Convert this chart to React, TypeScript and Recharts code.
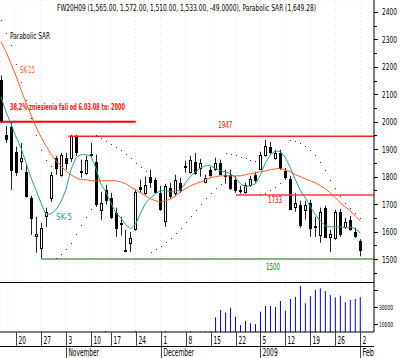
import React from "react";
import {
  Bar,
  CartesianGrid,
  ComposedChart,
  Line,
  ReferenceLine,
  Scatter,
  XAxis,
  YAxis,
} from "recharts";

const FONT = "'Liberation Sans Narrow', 'Arial Narrow', 'DejaVu Sans Condensed', sans-serif";

// one entry per trading day, 15 Oct 2008 .. 2 Feb 2009
const opens = [
  2153, 1953, 1982, 1891, 1858, 1818, 1723, 1585, 1541, 1657,
  1723, 1869, 1807, 1869, 1869, 1949, 1818, 1814, 1880, 1854,
  1679, 1752, 1723, 1668, 1628, 1532, 1559, 1610, 1763, 1741,
  1800, 1789, 1741, 1639, 1759, 1741, 1778, 1836, 1818, 1854,
  1832, 1781, 1825, 1829, 1851, 1803, 1807, 1789, 1749, 1745,
  1770, 1807, 1829, 1880, 1909, 1869, 1887, 1821, 1792, 1690,
  1698, 1680, 1705, 1621, 1588, 1687, 1581, 1577, 1672, 1617,
  1643, 1599, 1565,
];
const highs = [
  2168, 1985, 2000, 1909, 1923, 1847, 1730, 1654, 1632, 1687,
  1818, 1876, 1887, 1887, 1953, 1953, 1862, 1876, 1923, 1880,
  1745, 1770, 1741, 1687, 1654, 1606, 1599, 1752, 1789, 1800,
  1825, 1796, 1767, 1774, 1778, 1807, 1796, 1858, 1876, 1887,
  1865, 1807, 1836, 1869, 1862, 1825, 1825, 1803, 1767, 1778,
  1803, 1818, 1891, 1934, 1927, 1898, 1898, 1832, 1803, 1740,
  1712, 1712, 1716, 1654, 1687, 1694, 1606, 1679, 1683, 1650,
  1657, 1614, 1572,
];
const lows = [
  1996, 1923, 1752, 1803, 1825, 1723, 1588, 1523, 1504, 1617,
  1708, 1807, 1800, 1825, 1854, 1876, 1796, 1807, 1869, 1690,
  1643, 1698, 1646, 1581, 1585, 1526, 1526, 1603, 1741, 1734,
  1759, 1738, 1676, 1617, 1719, 1730, 1741, 1814, 1811, 1807,
  1800, 1778, 1800, 1821, 1807, 1774, 1752, 1741, 1738, 1738,
  1763, 1778, 1825, 1872, 1883, 1862, 1825, 1792, 1679, 1672,
  1614, 1643, 1581, 1581, 1559, 1577, 1526, 1570, 1581, 1610,
  1603, 1577, 1510,
];
const closes = [
  2007, 1938, 1825, 1818, 1869, 1730, 1650, 1592, 1614, 1672,
  1807, 1832, 1880, 1851, 1949, 1891, 1821, 1862, 1883, 1701,
  1705, 1716, 1654, 1614, 1632, 1528, 1577, 1745, 1756, 1770,
  1781, 1745, 1683, 1767, 1730, 1789, 1752, 1840, 1862, 1814,
  1851, 1796, 1807, 1851, 1810, 1807, 1759, 1752, 1752, 1770,
  1792, 1789, 1880, 1913, 1891, 1887, 1832, 1800, 1683, 1705,
  1625, 1697, 1614, 1617, 1672, 1581, 1592, 1672, 1592, 1636,
  1610, 1582, 1533,
];
const sk5 = [
  2091, 2036, 1993, 1945, 1905, 1851, 1796, 1752, 1705, 1661,
  1665, 1679, 1708, 1752, 1825, 1869, 1880, 1880, 1876, 1832,
  1774, 1745, 1705, 1668, 1650, 1625, 1610, 1628, 1668, 1705,
  1723, 1738, 1749, 1749, 1745, 1745, 1752, 1778, 1803, 1818,
  1832, 1840, 1840, 1829, 1821, 1818, 1811, 1796, 1774, 1763,
  1767, 1774, 1807, 1851, 1880, 1894, 1891, 1869, 1832, 1789,
  1749, 1723, 1690, 1661, 1639, 1621, 1617, 1617, 1617, 1614,
  1617, 1610, 1595,
];
const sk15 = [
  2292, 2255, 2211, 2168, 2117, 2069, 2026, 1982, 1945, 1913,
  1883, 1858, 1840, 1821, 1807, 1796, 1789, 1789, 1785, 1785,
  1785, 1785, 1785, 1785, 1781, 1774, 1763, 1752, 1741, 1730,
  1719, 1712, 1708, 1712, 1719, 1730, 1745, 1756, 1767, 1774,
  1781, 1789, 1796, 1800, 1803, 1803, 1803, 1803, 1803, 1807,
  1811, 1814, 1818, 1821, 1825, 1829, 1829, 1825, 1818, 1807,
  1800, 1792, 1785, 1778, 1767, 1756, 1741, 1723, 1705, 1690,
  1676, 1657, 1639,
];
const sar = [
  2372, 2324, 2281, 2211, 2146, 2080, 2015, 1953, 1898, 1862,
  1840, 1504, 1519, 1537, 1559, 1592, 1625, 1654, 1683, 1953,
  1942, 1931, 1920, 1909, 1898, 1883, 1869, 1851, 1836, 1821,
  1526, 1537, 1548, 1563, 1577, 1595, 1614, 1636, 1657, 1679,
  1701, 1723, 1741, 1760, 1774, 1887, 1883, 1880, 1872, 1869,
  1862, 1858, 1738, 1741, 1752, 1763, 1778, 1792, 1934, 1931,
  1923, 1913, 1898, 1880, 1854, 1825, 1789, 1760, 1730, 1705,
  1687, 1668, 1649.28,
];
const volume = [
  0, 0, 0, 0, 0, 0, 0, 0, 0, 0,
  0, 0, 0, 0, 0, 0, 0, 0, 0, 0,
  0, 1200, 0, 0, 0, 0, 0, 1200, 0, 0,
  0, 0, 0, 1200, 0, 0, 0, 0, 1200, 0,
  0, 600, 600, 17600, 26400, 23200, 29200, 18400, 8400, 13200,
  10400, 9600, 24400, 31200, 31200, 30000, 37200, 25200, 39600, 42400,
  55200, 34400, 43200, 50400, 52400, 49200, 44400, 41600, 43600, 35600,
  38400, 39600, 41600,
];

const tickIdx = [3, 8, 13, 18, 22, 27, 32, 37, 42, 47, 52, 57, 62, 67, 72];
const tickDays = ["20", "27", "3", "10", "17", "24", "1", "8", "15", "22", "5", "12", "19", "26", "2"];
const monthIdx = [13, 32, 52, 72];
const monthNames = ["November", "December", "2009", "Feb"];

const priceTicks = [1500, 1600, 1700, 1800, 1900, 2000, 2100, 2200, 2300, 2400];
const volumeTicks = [10000, 30000, 50000];

const PRICE_MIN = 1416.2;
const PRICE_MAX = 2443.7;
const X_DOMAIN = [-0.2, 74.75];

const data = opens.map((o, i) => ({
  i,
  open: o,
  high: highs[i],
  low: lows[i],
  close: closes[i],
  sk5: sk5[i],
  sk15: sk15[i],
  sar: sar[i],
  vol: volume[i],
}));

function Candle(props: any) {
  const { x, y, width, height, payload } = props;
  if (x == null || y == null) return null;
  const top = Math.min(y, y + height);
  const bot = Math.max(y, y + height);
  const span = payload.high - payload.low || 1;
  const py = (p: number) => top + ((payload.high - p) / span) * (bot - top);
  const cx = Math.round(x + width / 2) + 0.5;
  const yo = Math.round(py(payload.open)) + 0.5;
  const yc = Math.round(py(payload.close)) + 0.5;
  const up = payload.close >= payload.open;
  const bt = Math.min(yo, yc);
  const bh = Math.max(Math.abs(yc - yo), 1);
  return (
    <g>
      <line x1={cx} x2={cx} y1={top} y2={bot} stroke="#222" strokeWidth={1} />
      <rect x={cx - 1} y={bt} width={2} height={bh} fill={up ? "#fff" : "#000"} stroke="#000" strokeWidth={1} />
    </g>
  );
}

const SarDot = (p: any) =>
  p.cx == null ? null : (
    <rect x={Math.round(p.cx)} y={Math.round(p.cy)} width={1} height={1} fill="#333" />
  );

const pxPerPoint = 282 / (PRICE_MAX - PRICE_MIN);

function PriceTick({ x, y, payload }: any) {
  const yy = Math.round(y) + 0.5;
  const ym = Math.round(y + 50 * pxPerPoint) + 0.5;
  return (
    <g>
      <line x1={x} x2={x + 4} y1={yy} y2={yy} stroke="#000" />
      <line x1={x} x2={x + 3} y1={ym} y2={ym} stroke="#000" />
      <text x={x + 8} y={y + 3.5} fontSize={8} fontFamily={FONT} fill="#000" textLength={15} lengthAdjust="spacingAndGlyphs">
        {payload.value}
      </text>
    </g>
  );
}

function VolumeTick({ x, y, payload }: any) {
  const yy = Math.round(y) + 0.5;
  return (
    <g>
      <line x1={x} x2={x + 4} y1={yy} y2={yy} stroke="#000" />
      {payload.value < 50000 && (
        <text x={x + 5} y={y + 3} fontSize={7} fontFamily={FONT} fill="#000" textLength={14} lengthAdjust="spacingAndGlyphs">
          {payload.value}
        </text>
      )}
    </g>
  );
}

function DateTick({ x, y, payload }: any) {
  const k = tickIdx.indexOf(payload.value);
  const m = monthIdx.indexOf(payload.value);
  const lx = Math.round(x) + 0.5;
  const day = tickDays[k];
  return (
    <g>
      <line x1={lx} x2={lx} y1={y} y2={y + 15} stroke="#444" />
      <text x={lx + 2} y={y + 12} fontSize={10} fontFamily={FONT} fill="#000" textLength={day.length * 3.7} lengthAdjust="spacingAndGlyphs">
        {day}
      </text>
      {m >= 0 && (
        <g>
          <line x1={lx} x2={lx} y1={y + 15} y2={y + 26} stroke="#444" />
          <text x={lx + 2} y={y + 24} fontSize={10} fontFamily={FONT} fill="#000" textLength={monthNames[m].length * 3.8} lengthAdjust="spacingAndGlyphs">
            {monthNames[m]}
          </text>
        </g>
      )}
    </g>
  );
}

const lineLabel = (text: string, color: string, dx: number, dy: number, len: number, bold = false) =>
  (p: any) => {
    const vb = p.viewBox || {};
    return (
      <text
        x={(vb.x || 0) + dx}
        y={(vb.y || 0) + dy}
        fill={color}
        fontSize={9}
        fontWeight={bold ? "bold" : "normal"}
        fontFamily={FONT}
        textLength={len}
        lengthAdjust="spacingAndGlyphs"
      >
        {text}
      </text>
    );
  };

export default function App() {
  return (
    <div style={{ position: "absolute", left: 0, top: 0, width: 400, height: 358, background: "#fff", overflow: "hidden" }}>
      <ComposedChart width={400} height={282} data={data} margin={{ top: 0, right: 0, bottom: 0, left: 0 }}>
        <CartesianGrid stroke="#e2e2e2" strokeDasharray="1 3" />
        <XAxis dataKey="i" type="number" domain={X_DOMAIN} allowDataOverflow ticks={tickIdx} interval={0} hide />
        <YAxis
          yAxisId="p"
          orientation="right"
          width={26}
          domain={[PRICE_MIN, PRICE_MAX]}
          allowDataOverflow
          ticks={priceTicks}
          interval={0}
          tickSize={0}
          tickMargin={0}
          tickLine={false}
          axisLine={{ stroke: "#000" }}
          tick={<PriceTick />}
        />
        <ReferenceLine
          yAxisId="p"
          segment={[{ x: -0.2, y: 2000 }, { x: 27, y: 2000 }]}
          stroke="#ff0000"
          strokeWidth={2}
          ifOverflow="visible"
          label={lineLabel("38,2% zniesienia fali od 6.03.08 to: 2000", "#ff1010", 10, -12, 115, true)}
        />
        <ReferenceLine
          yAxisId="p"
          segment={[{ x: 13.5, y: 1947 }, { x: 74.75, y: 1947 }]}
          stroke="#ff2020"
          strokeWidth={1.5}
          ifOverflow="visible"
          label={lineLabel("1947", "#e00000", 150, -8, 14)}
        />
        <ReferenceLine
          yAxisId="p"
          segment={[{ x: 47.1, y: 1733 }, { x: 74.75, y: 1733 }]}
          stroke="#ff3a3a"
          strokeWidth={1.5}
          ifOverflow="visible"
          label={lineLabel("1733", "#e00000", 32, 8, 14)}
        />
        <ReferenceLine
          yAxisId="p"
          segment={[{ x: 8, y: 1500 }, { x: 74.75, y: 1500 }]}
          stroke="#006a00"
          strokeWidth={1}
          ifOverflow="visible"
          label={lineLabel("1500", "#008000", 225, 11, 14)}
        />
        <Line yAxisId="p" dataKey="sk15" type="linear" stroke="#ff5a28" strokeWidth={1} dot={false} activeDot={false} isAnimationActive={false} />
        <Line yAxisId="p" dataKey="sk5" type="linear" stroke="#2e9a9a" strokeWidth={1} dot={false} activeDot={false} isAnimationActive={false} />
        <Bar yAxisId="p" dataKey={(d: any) => [d.low, d.high]} barSize={5} shape={<Candle />} activeBar={false} isAnimationActive={false} />
        <Scatter yAxisId="p" dataKey="sar" shape={SarDot} activeShape={SarDot} isAnimationActive={false} />
      </ComposedChart>
      <ComposedChart width={400} height={76} data={data} margin={{ top: 0, right: 0, bottom: 0, left: 0 }}>
        <CartesianGrid stroke="#e2e2e2" strokeDasharray="1 3" />
        <XAxis
          dataKey="i"
          type="number"
          domain={X_DOMAIN}
          allowDataOverflow
          ticks={tickIdx}
          interval={0}
          height={26}
          tickSize={0}
          tickMargin={0}
          tickLine={false}
          axisLine={{ stroke: "#000" }}
          tick={<DateTick />}
        />
        <YAxis
          yAxisId="v"
          orientation="right"
          width={26}
          domain={[0, 60000]}
          ticks={volumeTicks}
          interval={0}
          tickSize={0}
          tickMargin={0}
          tickLine={false}
          axisLine={{ stroke: "#000" }}
          tick={<VolumeTick />}
        />
        <Bar yAxisId="v" dataKey="vol" barSize={1} fill="#0000f0" activeBar={false} isAnimationActive={false} />
      </ComposedChart>
      <svg width={400} height={358} style={{ position: "absolute", left: 0, top: 0, pointerEvents: "none" }}>
        <line x1={0} x2={374} y1={282.5} y2={282.5} stroke="#000" />
        <line x1={0} x2={374} y1={346.5} y2={346.5} stroke="#000" />
        <text x={57} y={11} fontSize={8} fontFamily={FONT} fill="#000" textLength={259} lengthAdjust="spacingAndGlyphs">
          FW20H09 (1,565.00, 1,572.00, 1,510.00, 1,533.00, -49.0000), Parabolic SAR (1,649.28)
        </text>
        <text x={10} y={39} fontSize={9} fontFamily={FONT} fill="#000" textLength={40} lengthAdjust="spacingAndGlyphs">
          Parabolic SAR
        </text>
        <text x={20} y={73} fontSize={9} fontFamily={FONT} fill="#ff5a28" textLength={15} lengthAdjust="spacingAndGlyphs">
          SK-15
        </text>
        <text x={56} y={220} fontSize={9} fontFamily={FONT} fill="#2e9a9a" textLength={16} lengthAdjust="spacingAndGlyphs">
          SK-5
        </text>
      </svg>
    </div>
  );
}
